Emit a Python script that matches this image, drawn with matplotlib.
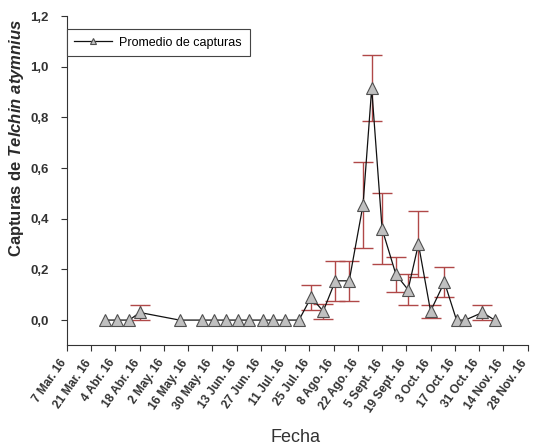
import numpy as np
import pandas as pd
import matplotlib
matplotlib.use('Agg')
import matplotlib.pyplot as plt

plt.rcParams['font.family'] = 'Liberation Sans'
plt.rcParams['mathtext.fontset'] = 'custom'
plt.rcParams['mathtext.it'] = 'Liberation Sans:italic:bold'
plt.rcParams['mathtext.rm'] = 'Liberation Sans:bold'

# sampling dates and mean captures
fechas = ['2016-03-29', '2016-04-05', '2016-04-12', '2016-04-18', '2016-05-11',
          '2016-05-24', '2016-05-31', '2016-06-07', '2016-06-14', '2016-06-20',
          '2016-06-28', '2016-07-04', '2016-07-11', '2016-07-19', '2016-07-26',
          '2016-08-02', '2016-08-09', '2016-08-17', '2016-08-25', '2016-08-30',
          '2016-09-05', '2016-09-13', '2016-09-20', '2016-09-26', '2016-10-03',
          '2016-10-11', '2016-10-18', '2016-10-23', '2016-11-02', '2016-11-09']
promedio = [0, 0, 0, 0.03, 0,
            0, 0, 0, 0, 0,
            0, 0, 0, 0, 0.09,
            0.035, 0.155, 0.155, 0.455, 0.915,
            0.36, 0.18, 0.12, 0.30, 0.035,
            0.15, 0, 0, 0.03, 0]
error = [0, 0, 0, 0.03, 0,
         0, 0, 0, 0, 0,
         0, 0, 0, 0, 0.05,
         0.03, 0.08, 0.08, 0.17, 0.13,
         0.14, 0.07, 0.06, 0.13, 0.025,
         0.06, 0, 0, 0.028, 0]

# x tick labels every 14 days
tick_start = '2016-03-07'
tick_end = '2016-11-28'
meses = {3: 'Mar.', 4: 'Abr.', 5: 'May.', 6: 'Jun.', 7: 'Jul.', 8: 'Ago.',
         9: 'Sept.', 10: 'Oct.', 11: 'Nov.'}
y_ticks = [0.0, 0.2, 0.4, 0.6, 0.8, 1.0, 1.2]

x = pd.to_datetime(fechas)
y = np.array(promedio)
e = np.array(error)
ticks = pd.date_range(tick_start, tick_end, freq='14D')
tick_labels = ['%d %s 16' % (t.day, meses[t.month]) for t in ticks]

fig = plt.figure(figsize=(5.33, 4.48), dpi=100)
ax = fig.add_axes([0.1257, 0.229, 0.864, 0.735])

# error bars only where there is an error
m = e > 0
ax.errorbar(x[m], y[m], yerr=e[m], fmt='none', ecolor='#b04848', elinewidth=1.0,
            capsize=7, capthick=1.0, zorder=2)
ax.plot(x, y, color='#111111', linewidth=0.9, marker='^', markersize=8,
        markerfacecolor='#c0c0c0', markeredgecolor='#505050', markeredgewidth=0.8,
        label='Promedio de capturas', zorder=3)

ax.set_xlim(ticks[0], ticks[-1])
ax.set_ylim(-0.1, 1.2)
ax.set_yticks(y_ticks)
ax.set_yticklabels([('%.1f' % v).replace('.', ',') for v in y_ticks])
ax.set_xticks(ticks)
ax.set_xticklabels(tick_labels, rotation=55, ha='right', va='baseline',
                   rotation_mode='anchor')

for lab in ax.get_xticklabels():
    lab.set_fontweight('bold')
    lab.set_fontsize(8.6)
    lab.set_color('#2a2a2a')
for lab in ax.get_yticklabels():
    lab.set_fontweight('bold')
    lab.set_fontsize(9.5)
    lab.set_color('#2a2a2a')

ax.tick_params(axis='x', direction='out', length=4, width=0.8, colors='#333333', pad=8.2)
ax.tick_params(axis='y', direction='out', length=4, width=0.8, colors='#333333', pad=9)
ax.spines['top'].set_visible(False)
ax.spines['right'].set_visible(False)
ax.spines['left'].set_color('#333333')
ax.spines['bottom'].set_color('#333333')

ax.set_ylabel(r'Capturas de $Telchin\ atymnius$', fontsize=12, fontweight='bold',
              color='#2a2a2a')
ax.yaxis.set_label_coords(-0.088, 0.63)
ax.set_xlabel('Fecha', fontsize=13, color='#333333')
ax.xaxis.set_label_coords(0.497, -0.255)

leg = ax.legend(loc='upper left', bbox_to_anchor=(0.0, 0.96), borderaxespad=0,
                fontsize=9.0, handlelength=3.0, markerscale=0.6, fancybox=False,
                framealpha=1, edgecolor='#444444', borderpad=0.6, handletextpad=0.6)
leg.get_frame().set_linewidth(0.8)

fig.savefig('out.png', dpi=100)
